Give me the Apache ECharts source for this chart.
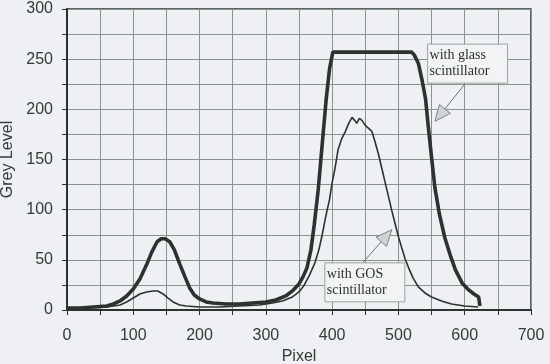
<!DOCTYPE html>
<html><head><meta charset="utf-8">
<script src="https://cdn.jsdelivr.net/npm/echarts@6/dist/echarts.min.js"></script>
<style>html,body{margin:0;padding:0;background:#eef0f3;}#c{width:550px;height:364px;}</style>
</head><body><div id="c"></div>
<script>
var xTickLabels = [0,100,200,300,400,500,600,700];
var yTickLabels = [0,50,100,150,200,250,300];
var glassSeries = [[0,2],[20,2],[40,3],[60,4],[70,6],[80,9],[90,14],[100,21],[110,31],[120,45],[128,58],[136,68],[142,71],[148,71],[155,68],[162,60],[170,46],[178,33],[185,22],[192,15],[200,11],[210,8],[220,7],[240,6],[260,6],[280,7],[300,8],[315,10],[330,14],[340,19],[350,26],[356,33],[362,42],[368,60],[373,85],[379,120],[385,165],[391,210],[396,240],[401,257],[520,257],[524,254],[530,246],[536,228],[541,210],[545,183],[550,152],[555,122],[562,95],[570,72],[578,55],[586,40],[596,27],[606,20],[614,16],[621,13],[623,4]];
var gosSeries = [[0,1],[30,2],[60,3],[80,5],[90,8],[100,12],[110,16],[120,18],[130,19],[137,19],[145,16],[152,12],[160,8],[170,5],[180,4],[200,3],[230,3],[260,4],[290,5],[310,7],[325,9],[340,13],[350,18],[358,25],[366,35],[374,47],[380,60],[385,75],[390,92],[396,110],[400,127],[404,140],[409,160],[414,170],[420,178],[425,186],[430,192],[434,189],[437,186],[441,191],[445,189],[450,184],[455,181],[460,178],[465,167],[470,155],[475,141],[480,127],[485,113],[490,99],[495,86],[500,73],[505,62],[510,51],[516,41],[522,32],[530,23],[540,17],[550,13],[565,9],[580,6],[600,4],[620,3]];
var annotations = [
  {lines:['with glass','scintillator'], box:[544,265], from:[600,225], tip:[555,188]},
  {lines:['with GOS','scintillator'], box:[389,47], from:[446,47], tip:[490,80]}
];
var txt = '#2e3d36', ink = '#2a332e', gridC = '#86958e';
var chart = echarts.init(document.getElementById('c'), null, {renderer:'canvas'});
chart.setOption({
  animation:false,
  backgroundColor:'#eef0f3',
  grid:{left:67,right:19,top:9,bottom:54,containLabel:false,outerBoundsMode:'none',show:true,borderColor:ink,borderWidth:1.5},
  xAxis:{type:'value',min:0,max:700,interval:50,name:'Pixel',nameLocation:'middle',nameGap:35,
    nameTextStyle:{color:txt,fontSize:16,fontFamily:'Liberation Sans'},
    axisLine:{lineStyle:{color:ink,width:2}},axisTick:{length:5,lineStyle:{color:ink}},
    axisLabel:{color:txt,fontSize:16,fontFamily:'Liberation Sans',margin:18,showMaxLabel:true,
      formatter:function(v){return xTickLabels.indexOf(v)>=0?String(v):'';}},
    splitLine:{lineStyle:{color:gridC,width:1}}},
  yAxis:{type:'value',min:0,max:300,interval:25,name:'Grey Level',nameLocation:'middle',nameGap:45,
    nameTextStyle:{color:txt,fontSize:16,fontFamily:'Liberation Sans'},
    axisLine:{lineStyle:{color:ink,width:2}},axisTick:{length:5,lineStyle:{color:ink}},
    axisLabel:{color:txt,fontSize:16,fontFamily:'Liberation Sans',margin:14,
      formatter:function(v){return yTickLabels.indexOf(v)>=0?String(v):'';}},
    splitLine:{lineStyle:{color:gridC,width:1}}},
  series:[
    {type:'line',data:gosSeries,showSymbol:false,lineStyle:{color:ink,width:1.6},z:3},
    {type:'line',data:glassSeries,showSymbol:false,lineStyle:{color:ink,width:3.6},z:4}
  ]
});
function addAnnotations(){
  var els = [];
  annotations.forEach(function(a){
    var b = chart.convertToPixel({gridIndex:0}, a.box);
    var f = chart.convertToPixel({gridIndex:0}, a.from);
    var t = chart.convertToPixel({gridIndex:0}, a.tip);
    var dx = t[0]-f[0], dy = t[1]-f[1], L = Math.sqrt(dx*dx+dy*dy), ux = dx/L, uy = dy/L;
    var hl = 16, hw = 7;
    var bx = t[0]-ux*hl, by = t[1]-uy*hl;
    els.push({type:'line',shape:{x1:f[0],y1:f[1],x2:bx,y2:by},style:{stroke:'#6b7570',lineWidth:1},z:10});
    els.push({type:'polygon',shape:{points:[[t[0],t[1]],[bx-uy*hw,by+ux*hw],[bx+uy*hw,by-ux*hw]]},
      style:{fill:'#cfd4d6',stroke:'#7d8782',lineWidth:1},z:10});
    els.push({type:'rect',shape:{x:b[0],y:b[1],width:80,height:39},
      style:{fill:'#f1f3f5',stroke:'#9aa39f',lineWidth:1},z:10});
    els.push({type:'text',x:b[0]+2,y:b[1]+3,style:{text:a.lines.join('\n'),fill:'#2c302e',
      font:'14px "Liberation Serif"',lineHeight:16},z:11});
  });
  chart.setOption({graphic:els});
}
addAnnotations();
</script></body></html>
